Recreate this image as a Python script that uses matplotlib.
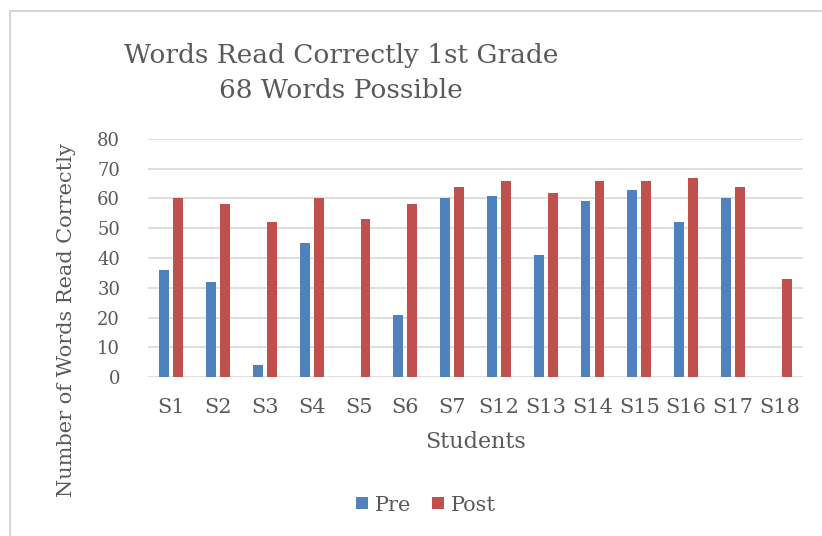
import matplotlib.pyplot as plt
import matplotlib.patches as patches
import numpy as np

students = ['S1', 'S2', 'S3', 'S4', 'S5', 'S6', 'S7', 'S12', 'S13', 'S14', 'S15', 'S16', 'S17', 'S18']
pre = [36, 32, 4, 45, 0, 21, 60, 61, 41, 59, 63, 52, 60, 0]
post = [60, 58, 52, 60, 53, 58, 64, 66, 62, 66, 66, 67, 64, 33]

plt.rcParams['font.family'] = ['DejaVu Serif', 'Liberation Serif']
text_color = '#595959'

fig = plt.figure(figsize=(8.22, 5.36), dpi=100)
ax = fig.add_axes([0.18, 0.2966, 0.797, 0.4441])

# рамка діаграми
fig.patches.append(patches.Rectangle((0.012, -0.1), 1.2, 1.08, transform=fig.transFigure,
                                     fill=False, edgecolor='#d0d0d0', linewidth=1.2))

x = np.arange(len(students))
ax.bar(x - 0.15, pre, width=0.21, color='#4F81BD', label='Pre', zorder=3)
ax.bar(x + 0.15, post, width=0.21, color='#C0504D', label='Post', zorder=3)

ax.set_xlim(-0.5, len(students) - 0.5)
ax.set_ylim(0, 80)
ax.set_yticks(range(0, 81, 10))
ax.set_xticks(x)
ax.set_xticklabels(students)
ax.grid(axis='y', color='#d9d9d9', linewidth=1.2, zorder=0)
for s in ax.spines.values():
    s.set_visible(False)
ax.tick_params(length=0, colors=text_color)
ax.tick_params(axis='x', labelsize=15, pad=15)
ax.tick_params(axis='y', labelsize=13, pad=20)

ax.set_xlabel('Students', fontsize=16, color=text_color, labelpad=10)
fig.text(0.081, 1 - 320 / 536, 'Number of Words Read Correctly', rotation=90,
         ha='center', va='center', fontsize=15, color=text_color)

fig.text(0.415, 1 - 73 / 536, 'Words Read Correctly 1st Grade\n68 Words Possible', ha='center', va='center',
         fontsize=19, color=text_color, linespacing=1.5)

ax.legend(loc='center', bbox_to_anchor=(0.424, -0.538), ncol=2, frameon=False,
          fontsize=15, labelcolor=text_color, handlelength=0.6, handleheight=0.5,
          columnspacing=1.0, handletextpad=0.3)

fig.savefig('out.png', dpi=100)
